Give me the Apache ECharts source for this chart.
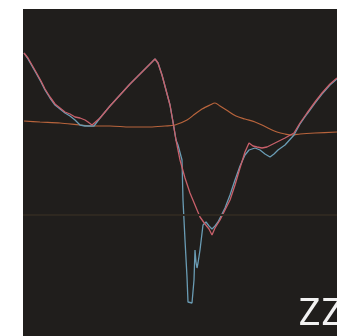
<!DOCTYPE html>
<html>
<head>
<meta charset="utf-8">
<script src="https://cdn.jsdelivr.net/npm/echarts@6/dist/echarts.min.js"></script>
<style>
  html, body { margin: 0; padding: 0; background: #fff; }
  #chart { width: 337px; height: 336px; }
</style>
</head>
<body>
<div id="chart"></div>
<script>
// trace samples: [time, level]
const redTrace = [
  [1, 283], [5, 278], [9, 271], [13, 264], [18, 255], [22, 247], [27, 239], [32, 232],
  [37, 228], [42, 224], [47, 222], [52, 219], [57, 218], [62, 216], [65, 214], [69, 211],
  [71, 210], [77, 218], [87, 230], [97, 241], [107, 252], [117, 262], [125, 270], [132, 277],
  [135, 273], [139, 261], [143, 246], [147, 231], [150, 214], [153, 196], [157, 176],
  [162, 158], [167, 143], [172, 131], [177, 119], [182, 112], [186, 107], [189, 101],
  [192, 108], [197, 116], [202, 126], [207, 136], [212, 151], [217, 168], [222, 184],
  [226, 193], [230, 190], [234, 189], [239, 188], [244, 189], [252, 193], [262, 198],
  [271, 203], [277, 213], [284, 223], [292, 234], [299, 243], [307, 252], [314, 258]
]
const blueTrace = [
  [1, 283], [5, 277], [9, 270], [13, 263], [18, 254], [22, 246], [27, 238], [32, 231],
  [37, 227], [42, 223], [47, 220], [52, 216], [57, 211], [62, 210], [67, 210], [71, 210],
  [77, 218], [87, 230], [97, 241], [107, 252], [117, 262], [125, 270], [132, 277],
  [135, 273], [139, 261], [143, 246], [147, 231], [150, 214], [153, 196], [155, 191],
  [159, 176], [160, 136], [162, 96], [164, 59], [165, 34], [167, 32], [169, 33], [171, 56],
  [172, 86], [173, 74], [174, 68], [175, 73], [177, 86], [180, 111], [183, 114], [186, 110],
  [189, 107], [192, 110], [195, 114], [202, 128], [207, 141], [212, 156], [217, 170],
  [222, 181], [226, 186], [232, 188], [237, 186], [242, 182], [247, 179], [251, 182],
  [255, 186], [262, 191], [271, 201], [277, 212], [284, 222], [292, 233], [299, 242],
  [307, 251], [314, 257]
]
const orangeTrace = [
  [1, 215], [17, 214], [37, 213], [57, 211], [70, 210], [87, 210], [107, 209], [127, 209],
  [142, 210], [152, 211], [164, 216], [172, 222], [179, 227], [187, 231], [192, 233],
  [197, 230], [205, 225], [213, 220], [222, 217], [232, 214], [239, 211], [247, 207],
  [254, 204], [262, 202], [269, 201], [277, 202], [292, 203], [314, 204]
]
const screenLine = 121
const readout = "ZZ"

const chart = echarts.init(document.getElementById("chart"))

const option = {
  backgroundColor: "#ffffff",
  animation: false,
  grid: {
    left: 23,
    top: 9,
    right: 0,
    bottom: 0,
    show: true,
    backgroundColor: "#201e1c",
    borderWidth: 0,
  },
  xAxis: {
    type: "value",
    min: 0,
    max: 314,
    show: false,
  },
  yAxis: {
    type: "value",
    min: 0,
    max: 327,
    show: false,
  },
  graphic: [
    {
      type: "text",
      right: -6,
      bottom: 2,
      style: {
        text: readout,
        fill: "#f2f2f2",
        font: "38px 'DejaVu Sans Mono'",
      },
    },
  ],
  series: [
    {
      name: "orange",
      type: "line",
      data: orangeTrace,
      showSymbol: false,
      smooth: 0.3,
      lineStyle: { color: "#b8643c", width: 1.2 },
      markLine: {
        silent: true,
        symbol: "none",
        label: { show: false },
        lineStyle: { color: "#2e2820", width: 2, type: "solid" },
        data: [{ yAxis: screenLine }],
      },
    },
    {
      name: "blue",
      type: "line",
      data: blueTrace,
      showSymbol: false,
      lineStyle: { color: "#6a9cb4", width: 1.3 },
    },
    {
      name: "red",
      type: "line",
      data: redTrace,
      showSymbol: false,
      lineStyle: { color: "#c8606a", width: 1.3 },
    },
  ],
}

chart.setOption(option)
</script>
</body>
</html>
